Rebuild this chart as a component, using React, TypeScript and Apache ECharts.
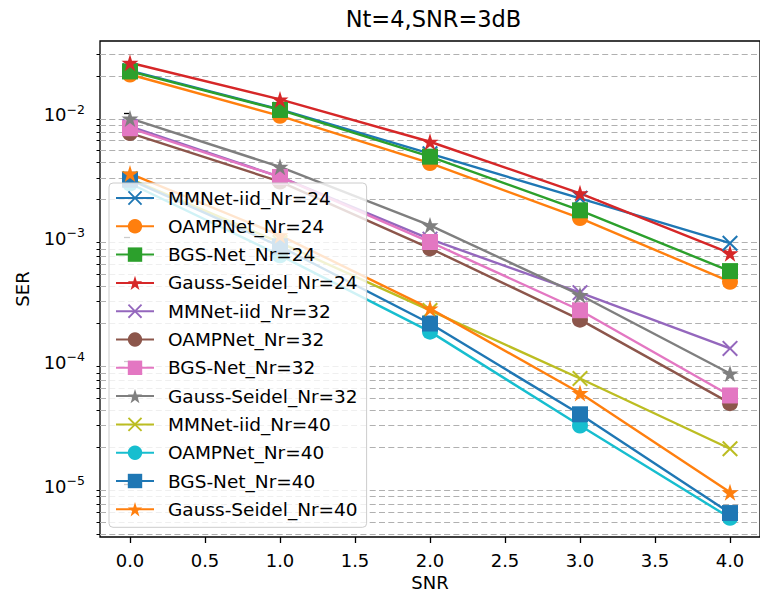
import { useEffect, useRef } from "react";
import * as echarts from "echarts";

// SNR points (x) and tick positions
const SNR = [0, 1, 2, 3, 4];
const X_TICKS = [0, 0.5, 1, 1.5, 2, 2.5, 3, 3.5, 4];
const Y_MAJOR = [1e-5, 1e-4, 1e-3, 1e-2];
const Y_MINOR = [
  4e-6, 5e-6, 6e-6, 7e-6, 8e-6, 9e-6,
  2e-5, 3e-5, 4e-5, 5e-5, 6e-5, 7e-5, 8e-5, 9e-5,
  2e-4, 3e-4, 4e-4, 5e-4, 6e-4, 7e-4, 8e-4, 9e-4,
  2e-3, 3e-3, 4e-3, 5e-3, 6e-3, 7e-3, 8e-3, 9e-3,
  2e-2, 3e-2,
];
const Y_MIN = 3.78e-6;
const Y_MAX = 0.0382;

// SER curves
const mmnetNr24 = [2.2e-2, 1.07e-2, 4.7e-3, 2.05e-3, 8.9e-4];
const oampNr24 = [2.05e-2, 9.5e-3, 3.95e-3, 1.42e-3, 4.35e-4];
const bgsNr24 = [2.17e-2, 1.06e-2, 4.45e-3, 1.64e-3, 5.3e-4];
const gsNr24 = [2.55e-2, 1.29e-2, 5.87e-3, 2.25e-3, 7.4e-4];
const mmnetNr32 = [7.8e-3, 3.05e-3, 9.6e-4, 3.55e-4, 1.26e-4];
const oampNr32 = [6.9e-3, 2.8e-3, 8.1e-4, 2.15e-4, 4.55e-5];
const bgsNr32 = [7.55e-3, 3.05e-3, 9.1e-4, 2.56e-4, 5.25e-5];
const gsNr32 = [9.05e-3, 3.68e-3, 1.24e-3, 3.4e-4, 7.9e-5];
const mmnetNr40 = [2.95e-3, 9.0e-4, 2.55e-4, 7.2e-5, 1.95e-5];
const oampNr40 = [2.7e-3, 7.1e-4, 1.72e-4, 3.0e-5, 5.4e-6];
const bgsNr40 = [2.9e-3, 8.4e-4, 2.0e-4, 3.7e-5, 5.9e-6];
const gsNr40 = [3.25e-3, 1.03e-3, 2.64e-4, 5.5e-5, 8.7e-6];

const STAR =
  "path://M0,-100 L22.45,-30.9 L95.11,-30.9 L36.33,11.8 L58.78,80.9 L0,38.2 L-58.78,80.9 L-36.33,11.8 L-95.11,-30.9 L-22.45,-30.9 Z";
const CROSS =
  "path://M-100,-82 L-82,-100 L0,-18 L82,-100 L100,-82 L18,0 L100,82 L82,100 L0,18 L-82,100 L-100,82 L-18,0 Z";

const FONT = "DejaVu Sans";

const SERIES: { name: string; values: number[]; color: string; symbol: string; size: number }[] = [
  { name: "MMNet-iid_Nr=24", values: mmnetNr24, color: "#1f77b4", symbol: CROSS, size: 16 },
  { name: "OAMPNet_Nr=24", values: oampNr24, color: "#ff7f0e", symbol: "circle", size: 16 },
  { name: "BGS-Net_Nr=24", values: bgsNr24, color: "#2ca02c", symbol: "rect", size: 16 },
  { name: "Gauss-Seidel_Nr=24", values: gsNr24, color: "#d62728", symbol: STAR, size: 17 },
  { name: "MMNet-iid_Nr=32", values: mmnetNr32, color: "#9467bd", symbol: CROSS, size: 16 },
  { name: "OAMPNet_Nr=32", values: oampNr32, color: "#8c564b", symbol: "circle", size: 16 },
  { name: "BGS-Net_Nr=32", values: bgsNr32, color: "#e377c2", symbol: "rect", size: 16 },
  { name: "Gauss-Seidel_Nr=32", values: gsNr32, color: "#7f7f7f", symbol: STAR, size: 17 },
  { name: "MMNet-iid_Nr=40", values: mmnetNr40, color: "#bcbd22", symbol: CROSS, size: 16 },
  { name: "OAMPNet_Nr=40", values: oampNr40, color: "#17becf", symbol: "circle", size: 16 },
  { name: "BGS-Net_Nr=40", values: bgsNr40, color: "#1f77b4", symbol: "rect", size: 16 },
  { name: "Gauss-Seidel_Nr=40", values: gsNr40, color: "#ff7f0e", symbol: STAR, size: 17 },
];

function powerLabel(v: number): string {
  const e = Math.round(Math.log10(v));
  return `{b|10}{s|${e < 0 ? "\u2212" : ""}${Math.abs(e)}}`;
}

export default function App() {
  const ref = useRef<HTMLDivElement>(null);

  useEffect(() => {
    if (!ref.current) return;
    const chart = echarts.init(ref.current, undefined, { renderer: "svg" });

    const option = {
      animation: false,
      backgroundColor: "#ffffff",
      textStyle: { fontFamily: FONT },
      grid: {
        left: 100,
        top: 41,
        width: 667,
        height: 496,
        show: true,
        borderColor: "#000000",
        borderWidth: 1.3,
        backgroundColor: "transparent",
      },
      graphic: [
        {
          type: "text",
          x: 433.5,
          y: 19,
          style: {
            text: "Nt=4,SNR=3dB",
            fontFamily: FONT,
            fontSize: 22.5,
            fill: "#000000",
            align: "center",
            verticalAlign: "middle",
          },
        },
      ],
      xAxis: {
        type: "value",
        min: -0.2,
        max: 4.2,
        name: "SNR",
        nameLocation: "middle",
        nameGap: 36,
        nameTextStyle: { fontFamily: FONT, fontSize: 18, color: "#000000" },
        axisLine: { show: false },
        axisTick: {
          show: true,
          length: 6,
          customValues: X_TICKS,
          lineStyle: { color: "#000000", width: 1.3 },
        },
        axisLabel: {
          customValues: X_TICKS,
          formatter: (v: number) => v.toFixed(1),
          margin: 14,
          fontFamily: FONT,
          fontSize: 18,
          color: "#000000",
        },
        splitLine: { show: false },
      },
      yAxis: [
        {
          type: "log",
          logBase: 10,
          min: Y_MIN,
          max: Y_MAX,
          name: "SER",
          nameLocation: "middle",
          nameGap: 69,
          nameTextStyle: { fontFamily: FONT, fontSize: 18, color: "#000000" },
          axisLine: { show: false },
          axisTick: {
            show: true,
            length: 6,
            customValues: Y_MAJOR,
            lineStyle: { color: "#000000", width: 1.3 },
          },
          axisLabel: {
            customValues: Y_MAJOR,
            formatter: powerLabel,
            margin: 15,
            rich: {
              b: { fontFamily: FONT, fontSize: 18, lineHeight: 21, verticalAlign: "bottom", color: "#000000" },
              s: { fontFamily: FONT, fontSize: 12.5, lineHeight: 15, verticalAlign: "top", color: "#000000" },
            },
          },
          splitLine: { show: false },
        },
        {
          type: "log",
          logBase: 10,
          min: Y_MIN,
          max: Y_MAX,
          position: "left",
          axisLine: { show: false },
          axisTick: {
            show: true,
            length: 3.5,
            customValues: Y_MINOR,
            lineStyle: { color: "#000000", width: 1 },
          },
          axisLabel: { show: false },
          splitLine: {
            show: true,
            lineStyle: { color: "#b0b0b0", width: 1, type: [6, 3.3] },
          },
        },
      ],
      legend: {
        orient: "vertical",
        left: 109,
        top: 183,
        padding: [5, 9, 8, 6],
        itemWidth: 38,
        itemHeight: 18,
        itemGap: 8.3,
        itemTextGap: 16,
        backgroundColor: "rgba(255,255,255,0.8)",
        borderColor: "#cccccc",
        borderWidth: 1,
        borderRadius: 4,
        textStyle: {
          fontFamily: FONT,
          fontSize: 18.5,
          lineHeight: 20,
          color: "#000000",
          padding: [0, 0, 0, 9],
        },
        data: SERIES.map((s) => s.name),
      },
      series: SERIES.map((s) => ({
        name: s.name,
        type: "line",
        yAxisIndex: 0,
        data: SNR.map((x, i) => [x, s.values[i]]),
        symbol: s.symbol,
        symbolSize: s.size,
        showSymbol: true,
        lineStyle: { color: s.color, width: 2.4 },
        itemStyle: { color: s.color },
        emphasis: { disabled: true },
      })),
    };

    chart.setOption(option as any);
    return () => {
      chart.dispose();
    };
  }, []);

  return (
    <div
      ref={ref}
      style={{ position: "absolute", left: 0, top: 0, width: 760, height: 599 }}
    />
  );
}
